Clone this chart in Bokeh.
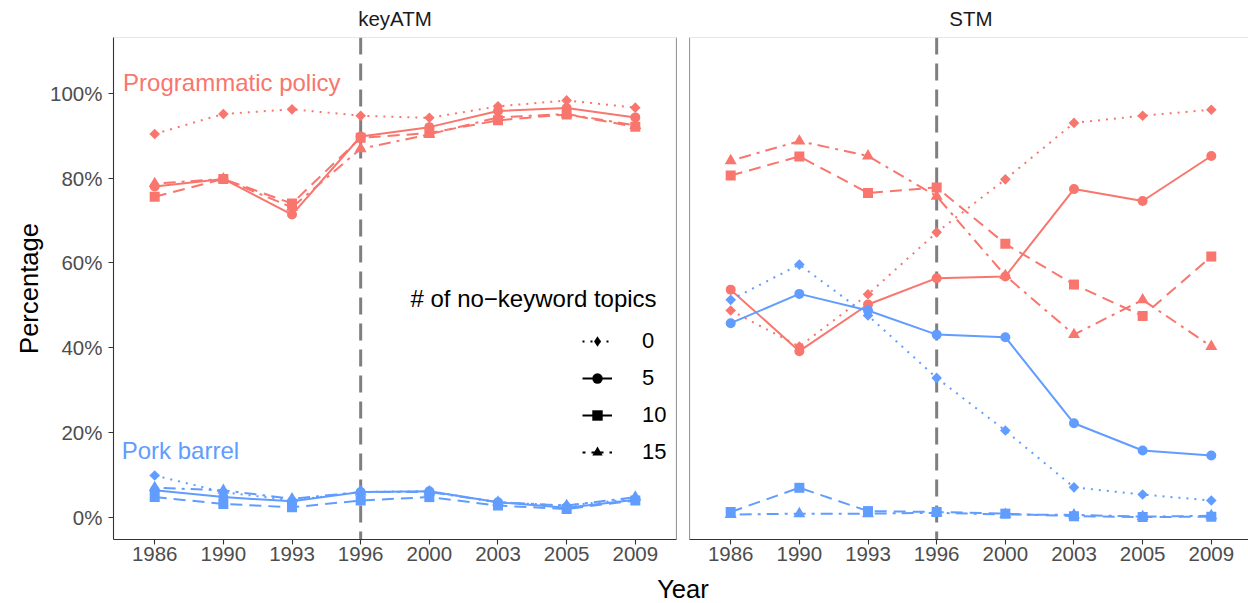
import math
from bokeh.plotting import figure
from bokeh.layouts import row, column
from bokeh.models import Range1d, Span, Label, Legend, LegendItem, FixedTicker
from bokeh.embed import file_html
from bokeh.resources import INLINE

# ---------------- data ----------------
years = ["1986", "1990", "1993", "1996", "2000", "2003", "2005", "2009"]
no_keyword_topics = ["0", "5", "10", "15"]
y_ticks = [0, 20, 40, 60, 80, 100]
election_reform_year = "1996"

keyatm_programmatic_0 = [90.4, 95.1, 96.2, 94.7, 94.2, 96.9, 98.3, 96.6]
keyatm_programmatic_5 = [78.0, 79.8, 71.4, 89.8, 92.0, 95.8, 96.5, 94.3]
keyatm_programmatic_10 = [75.6, 79.8, 74.0, 89.5, 90.6, 93.6, 95.0, 92.1]
keyatm_programmatic_15 = [78.7, 79.8, 73.1, 86.9, 90.3, 94.3, 95.1, 92.4]
keyatm_pork_0 = [9.9, 6.0, 4.0, 6.0, 6.2, 3.6, 2.8, 4.4]
keyatm_pork_5 = [6.4, 4.8, 3.8, 6.0, 6.2, 3.6, 2.3, 4.2]
keyatm_pork_10 = [4.8, 3.2, 2.4, 4.0, 4.8, 2.8, 2.0, 4.0]
keyatm_pork_15 = [7.0, 6.4, 4.4, 6.0, 6.0, 3.6, 2.8, 4.8]

stm_programmatic_0 = [48.8, 40.3, 52.6, 67.2, 79.7, 93.0, 94.7, 96.1]
stm_programmatic_5 = [53.7, 39.2, 50.2, 56.4, 56.8, 77.4, 74.6, 85.2]
stm_programmatic_10 = [80.6, 85.1, 76.5, 77.8, 64.5, 54.9, 47.5, 61.5]
stm_programmatic_15 = [84.1, 88.7, 85.2, 75.7, 57.0, 43.1, 51.3, 40.3]
stm_pork_0 = [51.3, 59.6, 47.6, 32.9, 20.5, 7.1, 5.4, 4.0]
stm_pork_5 = [45.8, 52.7, 48.8, 43.1, 42.5, 22.2, 15.8, 14.6]
stm_pork_10 = [1.3, 7.0, 1.5, 1.3, 0.9, 0.3, 0.1, 0.2]
stm_pork_15 = [0.7, 0.9, 0.9, 1.1, 0.7, 0.6, 0.2, 0.4]

# ---------------- style / layout ----------------
FONT = "Liberation Sans"
RED = "#F8766D"
BLUE = "#619CFF"
AXIS = "#333333"
TICKTXT = "#4d4d4d"
DASH = {"0": "2 6", "5": "solid", "10": "12 7", "15": "3 6 12 6"}
# (marker, size, angle) for the data; rotated square = ggplot filled diamond
MARK = {"0": ("square", 7.5, math.pi / 4), "5": ("circle", 10, 0.0),
        "10": ("square", 10, 0.0), "15": ("triangle", 12, 0.0)}
LEGEND_MARK = {"0": ("diamond", 12), "5": ("circle", 10), "10": ("square", 10), "15": ("triangle", 12)}

xs = list(range(1, len(years) + 1))
Y0, Y1 = -5.19, 113.13
TOTAL_W = 1248
STRIP_H = 36
PANEL_H = 535
FRAME_H = 502
BOTTOM_H = 32
LEFT_W, LEFT_BORDER, LEFT_FRAME = 683, 113, 563
RIGHT_BORDER = 6
RIGHT_FRAME = TOTAL_W - LEFT_W - RIGHT_BORDER
X_START = 0.4
LEFT_END = 8.6
PX_PER_UNIT = LEFT_FRAME / (LEFT_END - X_START)
RIGHT_END = X_START + RIGHT_FRAME / PX_PER_UNIT


def style_axes(p):
    for ax in p.axis:
        ax.axis_line_color = AXIS
        ax.axis_line_width = 1.1
        ax.major_tick_line_color = AXIS
        ax.major_tick_line_width = 1.1
        ax.major_tick_out = 5
        ax.major_tick_in = 0
        ax.minor_tick_line_color = None
        ax.major_label_text_font = FONT
        ax.major_label_text_font_size = "20.5px"
        ax.major_label_text_color = TICKTXT
    p.xaxis.ticker = FixedTicker(ticks=xs)
    p.xaxis.major_label_overrides = {x: y for x, y in zip(xs, years)}
    p.xaxis.major_label_standoff = 2
    p.grid.visible = False


def make_panel(x_end, width, left, show_y, prog, pork):
    p = figure(width=width, height=PANEL_H,
               x_range=Range1d(X_START, x_end), y_range=Range1d(Y0, Y1),
               output_backend="svg", toolbar_location=None, title=None,
               min_border_left=left, min_border_right=width - left - (LEFT_FRAME if show_y else RIGHT_FRAME),
               min_border_top=PANEL_H - FRAME_H - BOTTOM_H, min_border_bottom=BOTTOM_H,
               y_axis_location="left" if show_y else None,
               outline_line_color=None,
               background_fill_color="white", border_fill_color="white")
    style_axes(p)
    if show_y:
        p.yaxis.ticker = FixedTicker(ticks=y_ticks)
        p.yaxis.major_label_overrides = {t: f"{t}%" for t in y_ticks}
        p.yaxis.major_label_standoff = 6
        p.yaxis.axis_label = "Percentage"
        p.yaxis.axis_label_text_font = FONT
        p.yaxis.axis_label_text_font_size = "25.6px"
        p.yaxis.axis_label_text_font_style = "normal"
        p.yaxis.axis_label_text_color = "black"
        p.yaxis.axis_label_standoff = 4

    p.add_layout(Span(location=xs[years.index(election_reform_year)], dimension="height",
                      line_color="#7f7f7f", line_width=3, line_dash="17 9", level="underlay"))
    p.add_layout(Span(location=Y1, dimension="width", line_color="#d0d0d0", line_width=1))

    for color, group in ((RED, prog), (BLUE, pork)):
        for k, vals in zip(no_keyword_topics, group):
            m, s, a = MARK[k]
            p.line(xs, vals, line_color=color, line_width=2, line_dash=DASH[k])
            p.scatter(xs, vals, marker=m, size=s, angle=a, fill_color=color, line_color=None)
    return p


p1 = make_panel(LEFT_END, LEFT_W, LEFT_BORDER, True,
                [keyatm_programmatic_0, keyatm_programmatic_5, keyatm_programmatic_10, keyatm_programmatic_15],
                [keyatm_pork_0, keyatm_pork_5, keyatm_pork_10, keyatm_pork_15])
p2 = make_panel(RIGHT_END, TOTAL_W - LEFT_W, RIGHT_BORDER, False,
                [stm_programmatic_0, stm_programmatic_5, stm_programmatic_10, stm_programmatic_15],
                [stm_pork_0, stm_pork_5, stm_pork_10, stm_pork_15])

p1.add_layout(Span(location=LEFT_END, dimension="height", line_color=AXIS, line_width=1.1))
p2.add_layout(Span(location=X_START, dimension="height", line_color=AXIS, line_width=1.1))

p1.add_layout(Label(x=0.54, y=102.5, text="Programmatic policy", text_align="left",
                    text_baseline="middle", text_font=FONT, text_font_size="24px",
                    text_color=RED))
p1.add_layout(Label(x=0.52, y=15.8, text="Pork barrel", text_align="left",
                    text_baseline="middle", text_font=FONT, text_font_size="24px",
                    text_color=BLUE))

# legend with black keys (renderers hold no visible points)
nan = float("nan")
items = []
for k in no_keyword_topics:
    m, s = LEGEND_MARK[k]
    r1 = p1.line([nan], [nan], line_color="black", line_width=2, line_dash=DASH[k])
    r2 = p1.scatter([nan], [nan], marker=m, size=s, fill_color="black", line_color=None)
    items.append(LegendItem(label=k, renderers=[r1, r2]))
legend = Legend(items=items, location=(469, 74), glyph_width=30, glyph_height=26,
                label_height=26, label_standoff=30, spacing=11, padding=0, margin=0,
                border_line_color=None, background_fill_alpha=0,
                label_text_font=FONT, label_text_font_size="22px", label_text_color="black")
p1.add_layout(legend)
p1.add_layout(Label(x=8.31, y=51.5, text="# of no\u2212keyword topics", text_align="right",
                    text_baseline="middle", text_font=FONT, text_font_size="24px",
                    text_color="black"))


def text_strip(h):
    f = figure(width=TOTAL_W, height=h, x_range=Range1d(0, TOTAL_W), y_range=Range1d(0, h),
               output_backend="svg", toolbar_location=None, title=None,
               min_border=0, x_axis_location=None, y_axis_location=None,
               outline_line_color=None, background_fill_color="white", border_fill_color="white")
    f.grid.visible = False
    return f


# facet strip labels
p0 = text_strip(STRIP_H)
left_center = LEFT_BORDER + LEFT_FRAME / 2
right_center = LEFT_W + RIGHT_BORDER + (LEFT_END - X_START) * PX_PER_UNIT / 2
for cx, name in ((left_center, "keyATM"), (right_center, "STM")):
    p0.add_layout(Label(x=cx, y=STRIP_H - 18, text=name, text_align="center",
                        text_baseline="middle", text_font=FONT,
                        text_font_size="20.5px", text_color="#1a1a1a"))

# shared x-axis title
p3 = text_strip(BOTTOM_H)
p3.add_layout(Label(x=(LEFT_BORDER + LEFT_W + RIGHT_BORDER + (LEFT_END - X_START) * PX_PER_UNIT) / 2,
                    y=15, text="Year", text_align="center", text_baseline="middle",
                    text_font=FONT, text_font_size="25.6px", text_color="black"))

layout = column(p0, row(p1, p2), p3)
open("out.html", "w").write(file_html(layout, INLINE))
